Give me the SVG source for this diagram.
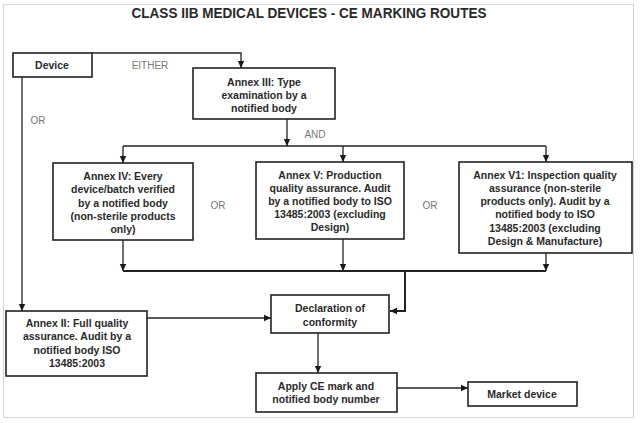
<svg xmlns="http://www.w3.org/2000/svg" width="640" height="423" viewBox="0 0 640 423">
<defs>
<marker id="arr" markerUnits="userSpaceOnUse" markerWidth="8" markerHeight="8" viewBox="0 0 8 8" refX="7" refY="4" orient="auto">
<path d="M0,0.8 L7,4 L0,7.2 Z" fill="#1a1a1a"/>
</marker>
<style>
.box{fill:#fff;stroke:#222;stroke-width:1.6}
.t{font-family:"Liberation Sans",Arial,sans-serif;font-size:10.5px;font-weight:bold;fill:#2a2a2a;text-anchor:middle}
.lbl{font-family:"Liberation Sans",Arial,sans-serif;font-size:10px;fill:#777;text-anchor:middle}
.c{fill:none;stroke:#222;stroke-width:1.3}
.a{marker-end:url(#arr)}
</style>
</defs>
<rect x="0" y="0" width="640" height="423" fill="#fff"/>
<rect x="3.5" y="4.5" width="630" height="413" fill="none" stroke="#d4d4d4" stroke-width="1"/>
<text x="309" y="18" font-family="'Liberation Sans',Arial,sans-serif" font-size="15" font-weight="bold" fill="#2a2a2a" text-anchor="middle" textLength="355" lengthAdjust="spacingAndGlyphs">CLASS IIB MEDICAL DEVICES - CE MARKING ROUTES</text>

<g id="connectors">
<path class="c a" d="M92,53 H241 V68"/>
<path class="c a" d="M22,77 V311"/>
<path class="c a" d="M287,119 V146"/>
<path class="c" d="M123,146 H546"/>
<path class="c a" d="M123,146 V163"/>
<path class="c a" d="M343,146 V162"/>
<path class="c a" d="M546,146 V162"/>
<path class="c a" d="M123,240 V271"/>
<path class="c a" d="M343,239 V271"/>
<path class="c a" d="M546,253 V271"/>
<path class="c" style="stroke-width:2" d="M123,271 H546"/>
<path class="c a" style="stroke-width:2" d="M405,271 V311 H390"/>
<path class="c a" d="M147,318 H271"/>
<path class="c a" d="M318,333 V373"/>
<path class="c a" d="M397,388 H468"/>
</g>

<g id="labels">
<text class="lbl" x="150" y="69">EITHER</text>
<text class="lbl" x="38" y="124">OR</text>
<text class="lbl" x="315" y="138">AND</text>
<text class="lbl" x="218" y="209">OR</text>
<text class="lbl" x="430" y="209">OR</text>
</g>

<g id="device">
<rect class="box" x="13" y="53" width="79" height="24"/>
<text class="t" x="52" y="69">Device</text>
</g>

<g id="annex3">
<rect class="box" x="193" y="68" width="142" height="51"/>
<text class="t" x="264" y="85.5">Annex III: Type</text>
<text class="t" x="264" y="98.5">examination by a</text>
<text class="t" x="264" y="111.5">notified body</text>
</g>

<g id="annex4">
<rect class="box" x="53" y="163" width="140" height="77"/>
<text class="t" x="123" y="179.5">Annex IV: Every</text>
<text class="t" x="123" y="193">device/batch verified</text>
<text class="t" x="123" y="206.5">by a notified body</text>
<text class="t" x="123" y="219.5">(non-sterile products</text>
<text class="t" x="123" y="232.5">only)</text>
</g>

<g id="annex5">
<rect class="box" x="256" y="162" width="148" height="77"/>
<text class="t" x="330" y="178.5">Annex V: Production</text>
<text class="t" x="330" y="191.5">quality assurance. Audit</text>
<text class="t" x="330" y="205">by a notified body to ISO</text>
<text class="t" x="330" y="218">13485:2003 (excluding</text>
<text class="t" x="330" y="231">Design)</text>
</g>

<g id="annex6">
<rect class="box" x="459" y="162" width="173" height="91"/>
<text class="t" x="545" y="178.5">Annex V1: Inspection quality</text>
<text class="t" x="545" y="191.5">assurance (non-sterile</text>
<text class="t" x="545" y="205">products only). Audit by a</text>
<text class="t" x="545" y="218">notified body to ISO</text>
<text class="t" x="545" y="231.5">13485:2003 (excluding</text>
<text class="t" x="545" y="245">Design &amp; Manufacture)</text>
</g>

<g id="annex2">
<rect class="box" x="6" y="311" width="141" height="65"/>
<text class="t" x="77" y="326.5">Annex II:  Full quality</text>
<text class="t" x="77" y="340">assurance. Audit by a</text>
<text class="t" x="77" y="354">notified body ISO</text>
<text class="t" x="77" y="366.5">13485:2003</text>
</g>

<g id="declaration">
<rect class="box" x="271" y="295" width="118" height="38"/>
<text class="t" x="330" y="311.5">Declaration of</text>
<text class="t" x="330" y="325.5">conformity</text>
</g>

<g id="apply">
<rect class="box" x="256" y="373" width="141" height="39"/>
<text class="t" x="326" y="390">Apply CE mark and</text>
<text class="t" x="326" y="402.5">notified body number</text>
</g>

<g id="market">
<rect class="box" x="468" y="382" width="109" height="24"/>
<text class="t" x="522" y="397.5">Market device</text>
</g>
</svg>
